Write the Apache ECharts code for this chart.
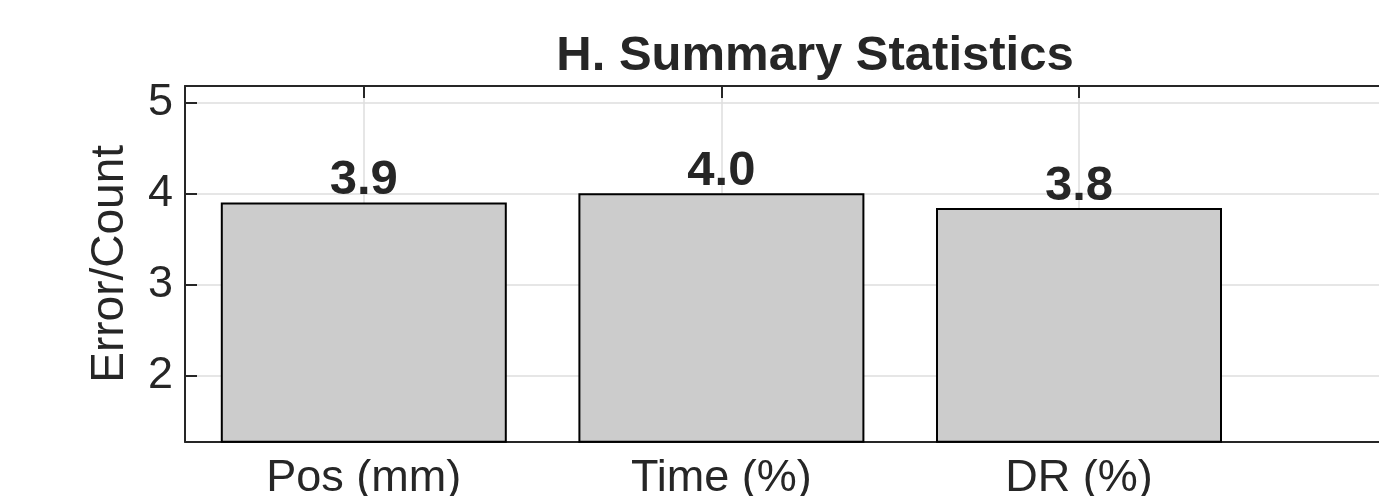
<!DOCTYPE html>
<html>
<head>
<meta charset="utf-8">
<script src="https://cdn.jsdelivr.net/npm/echarts@6/dist/echarts.min.js"></script>
<style>
html,body{margin:0;padding:0;background:#fff;}
#chart{width:1379px;height:496px;}
</style>
</head>
<body>
<div id="chart"></div>
<script>
const titleText = 'H. Summary Statistics';
const yAxisName = 'Error/Count';
const categories = ['Pos (mm)', 'Time (%)', 'DR (%)'];
const values = [3.90, 4.00, 3.84];
const yTicks = [2, 3, 4, 5];
const xTicks = [1, 2, 3, 4];
const yMin = 1.27, yMax = 5.18;
const xMin = 0.5, xMax = 4.0;

const FONT = '"Liberation Sans", Arial, Helvetica, sans-serif';
const TXT = '#262626';
const GRID = '#dedede';

const chart = echarts.init(document.getElementById('chart'));
const barData = values.map((v, i) => [i + 1, v]);

const xCommon = {
  type: 'value', min: xMin, max: xMax,
  axisLine: { show: true, onZero: false, lineStyle: { color: TXT, width: 2 } },
  axisTick: { show: true, inside: true, length: 12, customValues: xTicks, lineStyle: { color: TXT, width: 2 } }
};

chart.setOption({
  animation: false,
  title: {
    text: titleText, left: 815, top: 32, padding: 0, textAlign: 'center',
    textStyle: { fontFamily: FONT, fontWeight: 'bold', fontSize: 49, color: TXT }
  },
  grid: { left: 185, top: 86, width: 1251.6, height: 355.7, outerBoundsMode: 'none', containLabel: false },
  xAxis: [
    Object.assign({}, xCommon, {
      position: 'bottom',
      axisLabel: {
        customValues: [1, 2, 3], margin: 14,
        fontFamily: FONT, fontSize: 45, color: TXT,
        formatter: v => categories[Math.round(v) - 1] || ''
      },
      splitLine: { show: true, lineStyle: { color: GRID, width: 1.5 } }
    }),
    Object.assign({}, xCommon, {
      position: 'top',
      axisLabel: { show: false },
      splitLine: { show: false }
    })
  ],
  yAxis: {
    type: 'value', min: yMin, max: yMax,
    name: yAxisName, nameLocation: 'middle', nameGap: 52,
    nameTextStyle: { fontFamily: FONT, fontSize: 46, color: TXT },
    axisLine: { show: true, lineStyle: { color: TXT, width: 2 } },
    axisTick: { show: true, inside: true, length: 12, customValues: yTicks, lineStyle: { color: TXT, width: 2 } },
    axisLabel: { customValues: yTicks, margin: 12, fontFamily: FONT, fontSize: 45, color: TXT },
    splitLine: { show: true, lineStyle: { color: GRID, width: 1.5 } }
  },
  series: [{
    type: 'bar',
    data: barData,
    barWidth: 286,
    itemStyle: { color: '#cccccc', borderColor: '#000000', borderWidth: 2 },
    label: {
      show: true, position: 'top', distance: -3,
      fontFamily: FONT, fontWeight: 'bold', fontSize: 49, color: TXT,
      formatter: p => values[p.dataIndex].toFixed(1)
    }
  }]
});
</script>
</body>
</html>
